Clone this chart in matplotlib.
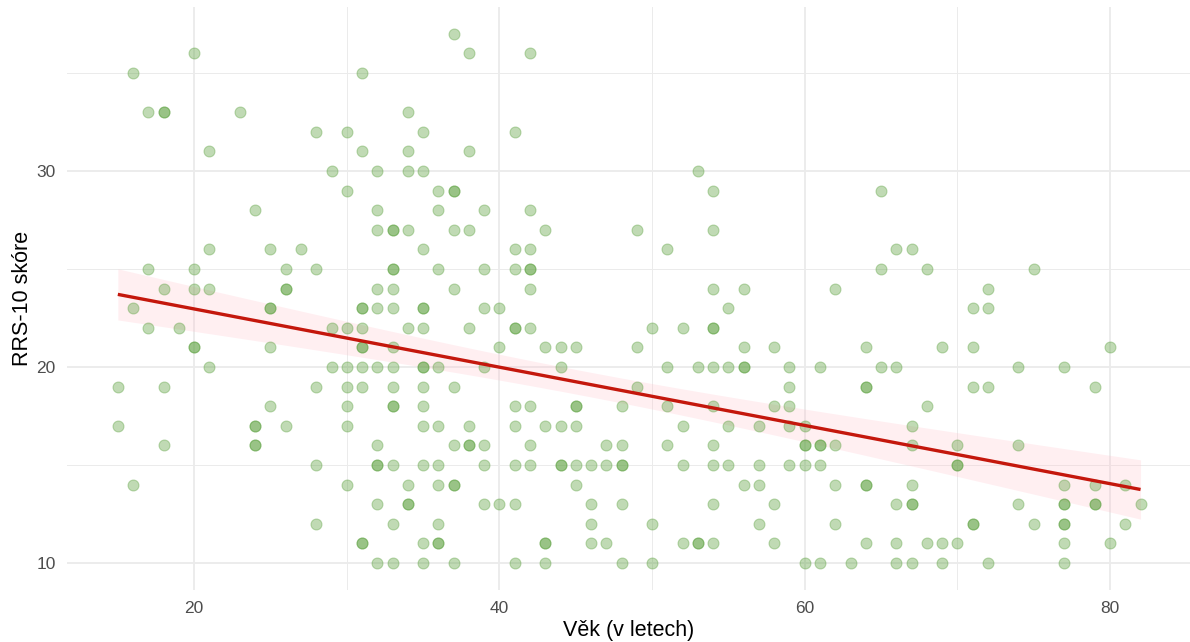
import numpy as np
import matplotlib
matplotlib.use("Agg")
import matplotlib.pyplot as plt

plt.rcParams['font.family'] = ['Liberation Sans', 'DejaVu Sans']

# (age, score) observations; repeated pairs = overlapping points
points = [
    (16,35),(20,36),(17,33),(18,33),(18,33),(23,33),(28,32),(30,32),(31,35),(31,31),(21,31),
    (29,30),(30,29),(24,28),(21,26),(25,26),(27,26),(17,25),(20,25),(26,25),(28,25),
    (18,24),(20,24),(21,24),(26,24),(26,24),
    (37,37),(38,36),(42,36),(34,33),(35,32),(41,32),(34,31),(38,31),(32,30),(34,30),(35,30),
    (36,29),(37,29),(37,29),(32,28),(36,28),(39,28),(42,28),(32,27),(33,27),(33,27),(34,27),
    (37,27),(38,27),(43,27),(35,26),(41,26),(42,26),(33,25),(33,25),(36,25),(39,25),(41,25),
    (42,25),(42,25),(32,24),(33,24),(37,24),(42,24),
    (53,30),(54,29),(65,29),(49,27),(54,27),(51,26),(65,25),(54,24),(56,24),(62,24),
    (66,26),(67,26),(68,25),(75,25),(72,24),
    (16,23),(25,23),(25,23),(17,22),(19,22),(29,22),(30,22),(20,21),(20,21),(25,21),
    (21,20),(29,20),(30,20),(15,19),(18,19),(28,19),(30,19),(25,18),(30,18),(15,17),
    (24,17),(24,17),(26,17),(30,17),(18,16),(24,16),(24,16),(28,15),(16,14),(30,14),(28,12),
    (31,23),(31,23),(32,23),(33,23),(35,23),(35,23),(39,23),(40,23),
    (31,22),(34,22),(35,22),(38,22),(41,22),(41,22),(42,22),
    (31,21),(31,21),(33,21),(40,21),(43,21),(44,21),(45,21),
    (31,20),(32,20),(33,20),(35,20),(35,20),(36,20),(39,20),(44,20),
    (31,19),(33,19),(35,19),(37,19),
    (33,18),(33,18),(35,18),(41,18),(42,18),(45,18),(45,18),
    (35,17),(36,17),(38,17),(41,17),(43,17),(44,17),(45,17),
    (32,16),(37,16),(38,16),(38,16),(39,16),(42,16),
    (32,15),(32,15),(33,15),(35,15),(36,15),(39,15),(41,15),(42,15),(44,15),(44,15),(45,15),(46,15),
    (34,14),(36,14),(37,14),(37,14),(45,14),
    (32,13),(34,13),(34,13),(39,13),(40,13),(41,13),(46,13),
    (33,12),(36,12),(46,12),
    (31,11),(31,11),(35,11),(36,11),(36,11),(43,11),(43,11),(46,11),
    (32,10),(33,10),(35,10),(37,10),(41,10),(43,10),
    (55,23),(50,22),(52,22),(54,22),(54,22),
    (49,21),(56,21),(58,21),(64,21),
    (51,20),(53,20),(54,20),(55,20),(56,20),(56,20),(59,20),(61,20),
    (49,19),(59,19),(64,19),(64,19),
    (48,18),(51,18),(54,18),(58,18),(59,18),
    (52,17),(55,17),(57,17),(59,17),(60,17),
    (47,16),(48,16),(51,16),(54,16),(60,16),(60,16),(61,16),(61,16),(62,16),
    (47,15),(48,15),(48,15),(52,15),(54,15),(55,15),(57,15),(59,15),(60,15),(61,15),
    (56,14),(57,14),(62,14),(64,14),(64,14),
    (48,13),(54,13),(58,13),
    (50,12),(57,12),(62,12),
    (47,11),(52,11),(53,11),(53,11),(54,11),(58,11),(64,11),
    (48,10),(50,10),(60,10),(61,10),(63,10),
    (71,23),(72,23),
    (69,21),(71,21),(80,21),
    (65,20),(66,20),(74,20),(77,20),
    (71,19),(72,19),(79,19),
    (68,18),(67,17),(67,16),(70,16),(74,16),(70,15),(70,15),
    (67,14),(77,14),(79,14),(81,14),
    (66,13),(67,13),(67,13),(74,13),(77,13),(77,13),(79,13),(79,13),(82,13),
    (71,12),(71,12),(75,12),(77,12),(77,12),(81,12),
    (66,11),(68,11),(69,11),(70,11),(77,11),(80,11),
    (66,10),(67,10),(69,10),(72,10),(77,10),
]
age = np.array([p[0] for p in points], dtype=float)
score = np.array([p[1] for p in points], dtype=float)

x_ticks = [20, 40, 60, 80]
y_ticks = [10, 20, 30]
x_label = "Věk (v letech)"
y_label = "RRS-10 skóre"

fig = plt.figure(figsize=(11.9, 6.42), dpi=100)
ax = fig.add_axes([66.7/1190, 1 - 589.5/642, 1 - 66.7/1190, (589.5 - 7.3)/642])

# linear fit with 95% CI
n = len(age)
b1, b0 = np.polyfit(age, score, 1)
xs = np.linspace(age.min(), age.max(), 200)
ys = b0 + b1 * xs
resid = score - (b0 + b1 * age)
s = np.sqrt(np.sum(resid**2) / (n - 2))
xbar = age.mean()
sxx = np.sum((age - xbar)**2)
se = s * np.sqrt(1/n + (xs - xbar)**2 / sxx)
t = 1.967
ax.fill_between(xs, ys - t*se, ys + t*se, color="#FFC0CB", alpha=0.25, linewidth=0, zorder=2)

ax.scatter(age, score, s=62, color="#5aa03c", alpha=0.38, edgecolors="#5aa03c",
           linewidths=0.8, zorder=3)
ax.plot(xs, ys, color="#C4170C", linewidth=2.4, zorder=4, solid_capstyle="butt")

ax.set_xlim(11.65, 85.24)
ax.set_ylim(8.65, 38.35)
ax.set_xticks(x_ticks)
ax.set_yticks(y_ticks)
ax.set_xticks([30, 50, 70], minor=True)
ax.set_yticks([15, 25, 35], minor=True)
ax.grid(which="major", color="#EBEBEB", linewidth=1.3)
ax.grid(which="minor", color="#EBEBEB", linewidth=0.7)
ax.set_axisbelow(True)
for sp in ax.spines.values():
    sp.set_visible(False)
ax.tick_params(which="both", length=0)
ax.tick_params(axis="x", pad=8, labelsize=12.5, labelcolor="#4D4D4D")
ax.tick_params(axis="y", pad=8, labelsize=12.5, labelcolor="#4D4D4D")
ax.set_xlabel(x_label, fontsize=15.5, color="black", labelpad=3)
ax.set_ylabel(y_label, fontsize=15.5, color="black", labelpad=2)

fig.savefig("out.png", dpi=100)
